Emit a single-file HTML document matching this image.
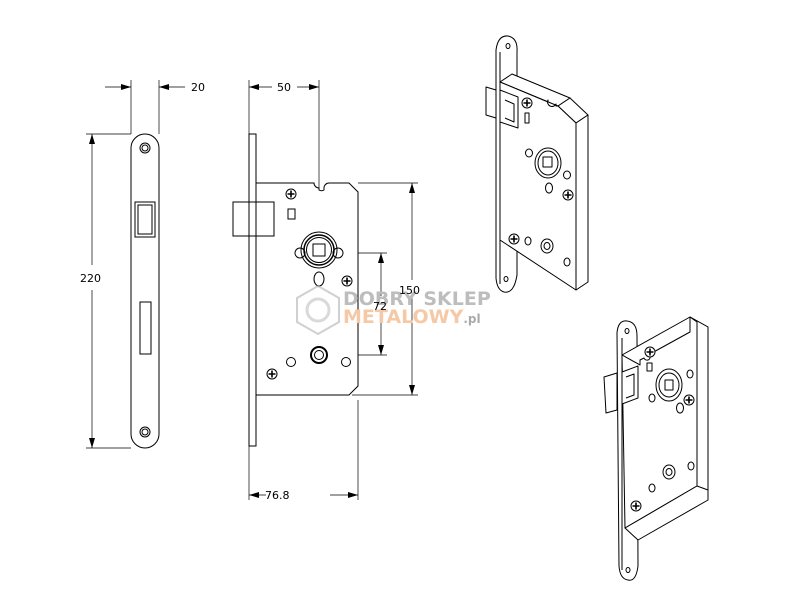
<!DOCTYPE html>
<html><head><meta charset="utf-8"><style>
html,body{margin:0;padding:0;background:#fff;}
svg{display:block;}
text{font-family:"DejaVu Sans","Liberation Sans",sans-serif;}
</style></head><body>
<svg width="792" height="612" viewBox="0 0 792 612" xmlns="http://www.w3.org/2000/svg">
<defs>
<marker id="a" viewBox="0 0 10 6" refX="10" refY="3" markerWidth="10" markerHeight="6" orient="auto" markerUnits="userSpaceOnUse"><path d="M0,0L10,3L0,6z" fill="#000"/></marker>
<g id="scr"><circle r="5" fill="#fff" stroke="#000" stroke-width="1"/><path d="M-3.5,0H3.5M0,-3.5V3.5" stroke="#000" stroke-width="1.6"/></g>
</defs>
<g fill="none" stroke="#000" stroke-width="1">
<!-- left faceplate -->
<rect x="131" y="134" width="28" height="314" rx="14" fill="#fff"/>
<circle cx="145" cy="148" r="5"/><circle cx="145" cy="148" r="3"/>
<circle cx="145" cy="432" r="5"/><circle cx="145" cy="432" r="3"/>
<rect x="135" y="202" width="20" height="35"/>
<rect x="138" y="205" width="14" height="29"/>
<rect x="140" y="302" width="11" height="52"/>
<g stroke-width="0.7">
<line x1="131" y1="80" x2="131" y2="134"/><line x1="159" y1="80" x2="159" y2="134"/>
<line x1="105" y1="87" x2="131" y2="87" marker-end="url(#a)"/>
<line x1="185" y1="87" x2="159" y2="87" marker-end="url(#a)"/>
<line x1="86" y1="134" x2="131" y2="134"/><line x1="86" y1="448" x2="131" y2="448"/>
<line x1="92" y1="265" x2="92" y2="134" marker-end="url(#a)"/>
<line x1="92" y1="290" x2="92" y2="448" marker-end="url(#a)"/>
<line x1="249" y1="80" x2="249" y2="134"/><line x1="319" y1="80" x2="319" y2="250"/>
<line x1="272" y1="87" x2="249" y2="87" marker-end="url(#a)"/>
<line x1="297" y1="87" x2="319" y2="87" marker-end="url(#a)"/>
<line x1="358" y1="183" x2="418" y2="183"/><line x1="352" y1="395" x2="418" y2="395"/>
<line x1="412" y1="280" x2="412" y2="183" marker-end="url(#a)"/>
<line x1="412" y1="298" x2="412" y2="395" marker-end="url(#a)"/>
<line x1="338" y1="253" x2="387" y2="253"/><line x1="325" y1="355" x2="387" y2="355"/>
<line x1="381" y1="296" x2="381" y2="253" marker-end="url(#a)"/>
<line x1="381" y1="314" x2="381" y2="355" marker-end="url(#a)"/>
<line x1="249" y1="446" x2="249" y2="500"/><line x1="358" y1="400" x2="358" y2="500"/>
<line x1="266" y1="495" x2="249" y2="495" marker-end="url(#a)"/>
<line x1="330" y1="495" x2="358" y2="495" marker-end="url(#a)"/>
</g>
<rect x="249" y="134" width="7" height="312" fill="#fff"/>
<path d="M256,183H314A5,5 0 0 0 319,188V190A5,5 0 0 0 324,190V188A5,5 0 0 1 329,183H349L358,192V386L349,395H256Z" fill="#fff"/>
<rect x="233" y="202" width="41" height="34" fill="#fff"/>
<line x1="249" y1="202" x2="249" y2="236"/><line x1="256" y1="202" x2="256" y2="236"/>
<rect x="288" y="209" width="7" height="10"/>
<circle cx="319" cy="250" r="18"/><circle cx="319" cy="250" r="15" stroke-width="1.5"/><circle cx="319" cy="250" r="12.5"/>
<rect x="313" y="244" width="12" height="12"/>
<circle cx="300" cy="253" r="5"/><circle cx="338" cy="253" r="5"/>
<ellipse cx="319" cy="279" rx="5" ry="7"/>
<circle cx="319" cy="355" r="8" stroke-width="2"/><circle cx="319" cy="355" r="4.5"/>
<circle cx="291" cy="362" r="4.5"/><circle cx="346" cy="362" r="4.5"/>
</g>
<use href="#scr" x="291" y="194"/><use href="#scr" x="347" y="281"/><use href="#scr" x="272" y="374"/>
<g opacity="0.55">
<polygon points="318,286 339,298 339,322 318,334 297,322 297,298" fill="none" stroke="#aaa" stroke-width="2"/>
<circle cx="318" cy="310" r="11" fill="none" stroke="#bbb" stroke-width="3"/>
</g>
<text x="343" y="305" font-size="19" font-weight="bold" fill="#bdbdbd" font-family="Liberation Sans,sans-serif">DOBRY SKLEP</text>
<text x="343" y="323" font-size="19" font-weight="bold" fill="#f5c9a6" font-family="Liberation Sans,sans-serif">METALOWY<tspan font-size="12" fill="#aaa">.pl</tspan></text>
<g font-size="11" fill="#000">
<text x="191" y="91">20</text>
<text x="277" y="91">50</text>
<text x="80" y="282">220</text>
<text x="399" y="294">150</text>
<text x="373" y="310">72</text>
<text x="265" y="499">76.8</text>
</g>
<!-- iso view 1 -->
<g fill="#fff" stroke="#000" stroke-width="1" stroke-linejoin="round">
<path d="M486,87L496,90V118L486,115Z"/>
<path d="M496,50Q498,35 508,36Q518,38 517,52L517,275Q514,294 504,292Q497,290 496,278Z"/>
<path d="M500,52V284"/>
<path d="M500,82L512,74L570,98L558,106Z"/>
<path d="M558,106L570,98L588,115L576,123Z"/>
<path d="M576,123L588,115L588,282L576,290Z"/>
<path d="M500,82L548,102V100A4,4 0 0 0 556,104V106L558,106L576,123L576,290L500,240Z"/>
<path d="M500,90L518,97V128L500,122Z"/>
<path d="M505,100L514,104V122L505,118"/>
<ellipse cx="508" cy="46" rx="2" ry="2.5"/><ellipse cx="506" cy="279" rx="2" ry="2.5"/>
<rect x="525" y="113" width="4" height="10"/>
<ellipse cx="548" cy="163" rx="13" ry="15"/><ellipse cx="548" cy="163" rx="10" ry="12"/>
<rect x="543" y="157" width="9" height="10"/>
<ellipse cx="529" cy="153" rx="3.5" ry="4"/><ellipse cx="567" cy="175" rx="3.5" ry="4"/>
<ellipse cx="549" cy="188" rx="3.5" ry="5"/>
<ellipse cx="547" cy="246" rx="6" ry="7"/><ellipse cx="547" cy="246" rx="3" ry="3.5"/>
<ellipse cx="528" cy="241" rx="3" ry="4"/><ellipse cx="567" cy="262" rx="3" ry="4"/>
</g>
<use href="#scr" x="527" y="103"/><use href="#scr" x="568" y="195"/><use href="#scr" x="514" y="239"/>
<!-- iso view 2 -->
<g fill="#fff" stroke="#000" stroke-width="1" stroke-linejoin="round">
<path d="M604,377L617,373V410L606,413Z"/>
<path d="M617,333Q618,320 627,321Q637,322 637,336L638,566Q636,582 628,580Q620,579 619,566Z"/>
<path d="M622,338V570"/>
<path d="M622,355L690,317L708,327L640,365Z"/>
<path d="M690,317L708,327V490L697,500Z"/>
<path d="M622,355L640,365V360L644,358A3,3 0 0 0 650,356V354L690,332V317L697,322V486L625,528Z"/>
<path d="M625,528L697,486L708,490V500L638,540Z"/>
<path d="M622,372L638,366V398L622,404Z"/>
<path d="M626,377L634,374V395L626,398"/>
<ellipse cx="627" cy="331" rx="2" ry="2.5"/><ellipse cx="628" cy="570" rx="2" ry="2.5"/>
<rect x="647" y="363" width="5" height="8"/>
<ellipse cx="669" cy="385" rx="13" ry="16"/><ellipse cx="669" cy="385" rx="10" ry="12"/>
<rect x="665" y="380" width="8" height="10"/>
<ellipse cx="652" cy="398" rx="3" ry="4"/><ellipse cx="690" cy="374" rx="3" ry="4"/>
<ellipse cx="680" cy="408" rx="3.5" ry="5"/>
<ellipse cx="669" cy="472" rx="6" ry="7"/><ellipse cx="669" cy="472" rx="3" ry="3.5"/>
<ellipse cx="652" cy="488" rx="3" ry="4"/><ellipse cx="691" cy="466" rx="3" ry="4"/>
</g>
<use href="#scr" x="650" y="352"/><use href="#scr" x="689" y="400"/><use href="#scr" x="636" y="506"/>
</svg>
</body></html>
